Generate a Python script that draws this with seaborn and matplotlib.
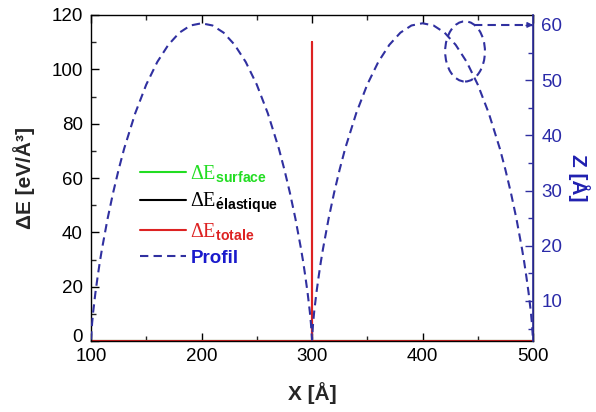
import matplotlib
matplotlib.use("Agg")
import matplotlib.pyplot as plt
from matplotlib.patches import Ellipse
from matplotlib.lines import Line2D
from matplotlib.ticker import MultipleLocator
import matplotlib.transforms as mtransforms
import seaborn as sns
import pandas as pd

# energy curves (all zero except the spike at the junction x = 300)
x_energy = [100, 300, 300, 300, 500]
e_surface = [0, 0, 0, 0, 0]
e_elastique = [0, 0, 0, 0, 0]
e_totale = [0, 0, 110, 0, 0]

# surface profile Z(x), two arches
x_profil = [100, 101, 102, 104, 106, 108, 110, 115, 120, 125, 130, 140, 150, 160, 170, 180, 190,
            200, 210, 220, 230, 240, 250, 260, 270, 275, 280, 285, 290, 292, 294, 296, 298, 299, 300,
            301, 302, 304, 306, 308, 310, 315, 320, 325, 330, 340, 350, 360, 370, 380, 390,
            400, 410, 420, 430, 440, 450, 460, 470, 475, 480, 485, 490, 492, 494, 496, 498, 499, 500]
z_profil = [3.0, 6.0, 8.1, 11.5, 14.4, 17.1, 19.5, 24.9, 29.6, 33.8, 37.6, 44.0, 49.2, 53.3, 56.4, 58.6, 59.9,
            60.3, 59.9, 58.6, 56.4, 53.3, 49.2, 44.0, 37.6, 33.8, 29.6, 24.9, 19.5, 17.1, 14.4, 11.5, 8.1, 6.0, 3.0,
            6.0, 8.1, 11.5, 14.4, 17.1, 19.5, 24.9, 29.6, 33.8, 37.6, 44.0, 49.2, 53.3, 56.4, 58.6, 59.9,
            60.3, 59.9, 58.6, 56.4, 53.3, 49.2, 44.0, 37.6, 33.8, 29.6, 24.9, 19.5, 17.1, 14.4, 11.5, 8.1, 6.0, 3.0]

green = "#22dd22"
red = "#dd2222"
blue_line = "#3030a0"
blue_txt = "#2a2aa8"

sns.set_theme(style="white")
plt.rcParams["font.family"] = ["Liberation Sans", "DejaVu Sans"]
plt.rcParams["mathtext.fontset"] = "custom"
plt.rcParams["mathtext.rm"] = "Liberation Serif"
plt.rcParams["mathtext.bf"] = "Liberation Sans:bold"

df_e = pd.DataFrame({"x": x_energy, "surf": e_surface, "ela": e_elastique, "tot": e_totale})
df_p = pd.DataFrame({"x": x_profil, "z": z_profil})

fig = plt.figure(figsize=(5.96, 4.12), dpi=100)
ax = fig.add_axes([0.1527, 0.1723, 0.7416, 0.7913])
ax2 = ax.twinx()

sns.lineplot(data=df_e, x="x", y="surf", ax=ax, color=green, lw=1.5, sort=False, estimator=None)
sns.lineplot(data=df_e, x="x", y="ela", ax=ax, color="black", lw=1.5, sort=False, estimator=None)
sns.lineplot(data=df_e, x="x", y="tot", ax=ax, color=red, lw=1.5, sort=False, estimator=None)
sns.lineplot(data=df_p, x="x", y="z", ax=ax2, color=blue_line, lw=1.5, sort=False, estimator=None,
             linestyle=(0, (4, 2.5)))

ax.set_xlim(100, 500)
ax.set_ylim(0, 120)
ax2.set_ylim(2.75, 61.8)

ax.xaxis.set_major_locator(MultipleLocator(100))
ax.xaxis.set_minor_locator(MultipleLocator(50))
ax.yaxis.set_major_locator(MultipleLocator(20))
ax.yaxis.set_minor_locator(MultipleLocator(10))
ax2.yaxis.set_major_locator(MultipleLocator(10))
ax2.yaxis.set_minor_locator(MultipleLocator(5))
ax2.set_yticks([10, 20, 30, 40, 50, 60])

ax.tick_params(axis="both", which="major", direction="in", length=6, width=1, labelsize=13.5,
               pad=5, top=True, bottom=True, left=True, colors="black")
ax.tick_params(axis="both", which="minor", direction="in", length=3.5, width=1, top=True, bottom=True, left=True)
ax.tick_params(axis="y", pad=6)
ax.tick_params(axis="x", labeltop=False)
ax2.tick_params(axis="y", which="major", direction="in", length=6, width=1, labelsize=13.5,
                pad=6, colors=blue_line, labelcolor=blue_txt, right=True)
ax2.tick_params(axis="y", which="minor", direction="in", length=3.5, width=1, colors=blue_line, right=True)

# lift the "0" label a little, as in the original, so it sits above "100"
ax.set_yticks([0, 20, 40, 60, 80, 100, 120])
zero_lbl = ax.get_yticklabels()[0]
zero_lbl.set_transform(zero_lbl.get_transform() + mtransforms.ScaledTranslation(0, 4 / 72, fig.dpi_scale_trans))

for s in ax.spines.values():
    s.set_color("black")
    s.set_linewidth(1)
for name, s in ax2.spines.items():
    s.set_visible(name == "right")
ax2.spines["right"].set_color(blue_line)
ax2.spines["right"].set_linewidth(1.2)

ax.set_xlabel("X [Å]", fontsize=15, fontweight="bold", labelpad=12)
ax.set_ylabel("ΔE [eV/Å³]", fontsize=15, fontweight="bold", labelpad=12)
ax2.set_ylabel("Z [Å]", fontsize=15, fontweight="bold", color="#2020b0", rotation=270, labelpad=20)

# dashed ellipse and arrow pointing at the right axis
ell = Ellipse((438.5, 55.2), width=36, height=10.9, fill=False, ls=(0, (4, 2.5)), lw=1.5,
              ec=blue_line, transform=ax2.transData)
ax2.add_patch(ell)
ax2.plot([447, 497], [60, 60], ls=(0, (4, 2.5)), lw=1.5, color=blue_line)
ax2.annotate("", xy=(500, 60), xytext=(495, 60),
             arrowprops=dict(arrowstyle="-|>", color=blue_line, lw=1, mutation_scale=8))

handles = [Line2D([], [], color=green, lw=1.5),
           Line2D([], [], color="black", lw=1.5),
           Line2D([], [], color=red, lw=1.5),
           Line2D([], [], color=blue_line, lw=1.5, ls=(0, (4, 2.5)))]
labels = [r"$\mathrm{\Delta E}_{\mathbf{surface}}$",
          r"$\mathrm{\Delta E}_{\mathbf{\'elastique}}$",
          r"$\mathrm{\Delta E}_{\mathbf{totale}}$",
          "Profil"]
leg = ax2.legend(handles, labels, loc="upper left", bbox_to_anchor=(0.111, 0.545), frameon=False,
                 fontsize=14.5, handlelength=2.3, handletextpad=0.2, labelspacing=0.3,
                 borderpad=0, borderaxespad=0)
for t, c in zip(leg.get_texts(), [green, "black", red, "#1a1acc"]):
    t.set_color(c)
leg.get_texts()[3].set_fontweight("bold")
leg.get_texts()[3].set_fontsize(13.5)

fig.savefig("out.png", dpi=100)
